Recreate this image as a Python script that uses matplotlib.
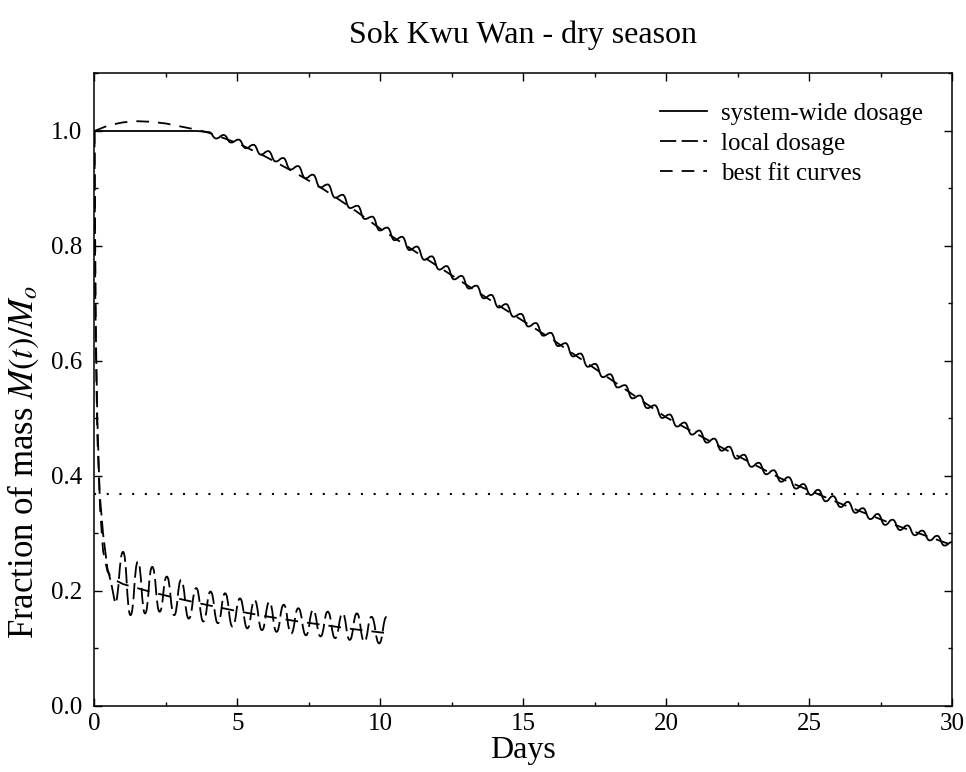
import numpy as np
import matplotlib
matplotlib.use("Agg")
import matplotlib.pyplot as plt
from matplotlib.path import Path
from matplotlib.patches import PathPatch
from matplotlib.lines import Line2D
from matplotlib.ticker import MultipleLocator

plt.rcParams['font.family'] = ['Liberation Serif', 'DejaVu Serif']
plt.rcParams['mathtext.fontset'] = 'stix'

# system-wide dosage: flat start, then tidal extrema (peak / trough alternating)
sys_flat_days = [0.0, 3.6]
sys_flat_vals = [1.0, 1.0]
half_tide = 0.26   # half of the semi-diurnal period, days
sys_wave_start = 4.0
sys_wave_vals = [
    0.998, 0.987, 0.993, 0.980, 0.985, 0.970, 0.976, 0.959, 0.965, 0.947,
    0.953, 0.933, 0.939, 0.918, 0.924, 0.902, 0.907, 0.884, 0.889, 0.866,
    0.870, 0.847, 0.851, 0.827, 0.832, 0.810, 0.816, 0.793, 0.799, 0.776,
    0.782, 0.759, 0.765, 0.742, 0.748, 0.726, 0.731, 0.709, 0.715, 0.693,
    0.699, 0.677, 0.682, 0.660, 0.666, 0.644, 0.649, 0.626, 0.631, 0.608,
    0.613, 0.590, 0.595, 0.572, 0.577, 0.554, 0.558, 0.535, 0.540, 0.518,
    0.523, 0.501, 0.507, 0.486, 0.493, 0.472, 0.479, 0.458, 0.465, 0.444,
    0.451, 0.430, 0.437, 0.416, 0.423, 0.403, 0.410, 0.390, 0.398, 0.378,
    0.386, 0.367, 0.376, 0.356, 0.365, 0.346, 0.355, 0.336, 0.344, 0.325,
    0.334, 0.315, 0.324, 0.306, 0.314, 0.297, 0.305, 0.288, 0.296, 0.279,
    0.285,
]

# local dosage: fast initial drop, then tidal extrema
local_drop_days = [0.0, 0.03, 0.10, 0.18, 0.30, 0.45, 0.58]
local_drop_vals = [1.0, 0.70, 0.50, 0.37, 0.30, 0.24, 0.215]
local_peak_days = [1.00, 1.52, 2.02, 2.53, 3.03, 3.56, 4.06, 4.57, 5.09, 5.60,
                   6.12, 6.62, 7.13, 7.65, 8.16, 8.68, 9.18, 9.69]
local_peak_vals = [0.268, 0.251, 0.242, 0.225, 0.219, 0.205, 0.199, 0.196, 0.187, 0.184,
                   0.181, 0.176, 0.170, 0.167, 0.164, 0.161, 0.161, 0.155]
local_trough_days = [0.72, 1.26, 1.77, 2.28, 2.79, 3.30, 3.81, 4.32, 4.83, 5.35,
                     5.86, 6.37, 6.88, 7.40, 7.91, 8.42, 8.93, 9.44, 9.96]
local_trough_vals = [0.179, 0.158, 0.161, 0.164, 0.158, 0.152, 0.147, 0.144, 0.138, 0.135,
                     0.132, 0.129, 0.126, 0.123, 0.121, 0.118, 0.115, 0.112, 0.109]
local_end_day = 10.22
local_end_val = 0.155

# best fit curves
fit_sys_days = [0, 0.5, 1, 1.5, 2, 2.5, 3, 3.5, 4, 5, 6, 7, 8, 9, 10, 12, 14, 16,
                18, 20, 22, 24, 26, 28, 30]
fit_sys_vals = [1.0, 1.010, 1.015, 1.017, 1.016, 1.013, 1.008, 1.003, 0.997, 0.979,
                0.955, 0.928, 0.899, 0.866, 0.830, 0.765, 0.701, 0.638, 0.570, 0.502,
                0.448, 0.396, 0.354, 0.315, 0.280]
fit_local_days = [0, 0.05, 0.1, 0.2, 0.3, 0.45, 0.6, 1, 2, 3, 4, 5, 6, 7, 8, 9, 10, 10.4]
fit_local_vals = [1.0, 0.62, 0.47, 0.34, 0.27, 0.235, 0.222, 0.212, 0.198, 0.186,
                  0.175, 0.165, 0.156, 0.148, 0.141, 0.134, 0.128, 0.126]

e_fold = 0.368


def wave_path(days, vals, n_straight):
    # straight segments for the first points, smooth s-curves between extrema after
    verts = [(days[0], vals[0])]
    codes = [Path.MOVETO]
    for i in range(1, len(days)):
        x0, y0 = days[i - 1], vals[i - 1]
        x1, y1 = days[i], vals[i]
        if i < n_straight:
            verts.append((x1, y1))
            codes.append(Path.LINETO)
        else:
            xm = (x0 + x1) / 2
            verts += [(xm, y0), (xm, y1), (x1, y1)]
            codes += [Path.CURVE4] * 3
    return Path(verts, codes)


sys_wave_days = [sys_wave_start + k * half_tide for k in range(len(sys_wave_vals))]
sys_days = sys_flat_days + sys_wave_days
sys_vals = sys_flat_vals + sys_wave_vals

osc_days = sorted(local_peak_days + local_trough_days)
osc_lookup = dict(zip(local_peak_days, local_peak_vals))
osc_lookup.update(zip(local_trough_days, local_trough_vals))
local_days = local_drop_days + osc_days + [local_end_day]
local_vals = local_drop_vals + [osc_lookup[d] for d in osc_days] + [local_end_val]

fig = plt.figure(figsize=(9.66, 7.72), dpi=100)
ax = fig.add_axes([0.0978, 0.0855, 0.8877, 0.8193])

lw = 1.3
long_dash = (0, (9, 3))
short_dash = (0, (7, 5))

ax.add_patch(PathPatch(wave_path(sys_days, sys_vals, 3), fill=False,
                       lw=lw, ec='black', ls='-'))
ax.add_patch(PathPatch(wave_path(local_days, local_vals, len(local_drop_days) + 1),
                       fill=False, lw=lw, ec='black', ls=long_dash))
ax.plot(fit_sys_days, fit_sys_vals, color='black', lw=lw, ls=short_dash)
ax.plot(fit_local_days, fit_local_vals, color='black', lw=lw, ls=short_dash)
ax.axhline(e_fold, color='black', lw=1.5, ls=(0, (1, 5.1)))

ax.set_xlim(0, 30)
ax.set_ylim(0, 1.1)
ax.xaxis.set_major_locator(MultipleLocator(5))
ax.xaxis.set_minor_locator(MultipleLocator(2.5))
ax.yaxis.set_minor_locator(MultipleLocator(0.1))
ax.set_yticks([0.0, 0.2, 0.4, 0.6, 0.8, 1.0])
ax.set_yticklabels(['0.0', '0.2', '0.4', '0.6', '0.8', '1.0'])
ax.tick_params(which='both', direction='in', top=True, right=True, width=1.0)
ax.tick_params(which='major', length=6, labelsize=18)
ax.tick_params(axis='y', which='major', pad=9)
ax.tick_params(axis='x', which='major', pad=5)
ax.tick_params(which='minor', length=3)
for s in ax.spines.values():
    s.set_linewidth(1.1)

ax.set_xlabel('Days', fontsize=23, labelpad=1)
ax.set_ylabel('Fraction of mass $M(t)/M_o$', fontsize=25)
ax.yaxis.set_label_coords(-0.062, 0.386)
ax.set_title('Sok Kwu Wan - dry season', fontsize=23, pad=22)

handles = [Line2D([], [], color='black', lw=lw, ls='-'),
           Line2D([], [], color='black', lw=lw, ls=long_dash),
           Line2D([], [], color='black', lw=lw, ls=short_dash)]
ax.legend(handles, ['system-wide dosage', 'local dosage', 'best fit curves'],
          loc='upper right', frameon=False, fontsize=18, labelspacing=0.3,
          handlelength=1.9, handletextpad=0.55, borderaxespad=0.75)

fig.savefig('out.png', dpi=100)
